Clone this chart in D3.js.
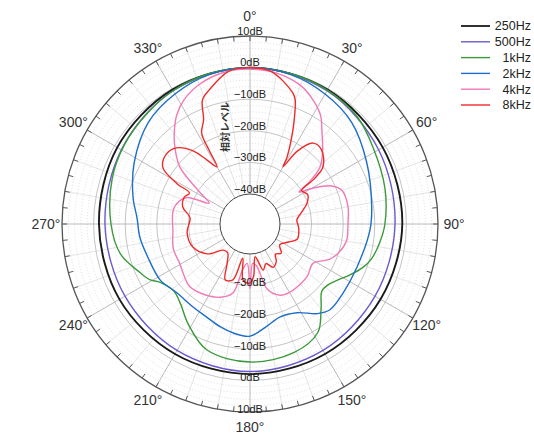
<!DOCTYPE html>
<html>
<head>
<meta charset="utf-8">
<script src="https://cdn.jsdelivr.net/npm/d3@7"></script>
<style>
  body { margin: 0; background: #fff; }
  text { font-family: "Liberation Sans", Arial, sans-serif; }
</style>
</head>
<body>
<div id="chart"></div>
<script>
// directivity readings, angle in degrees (0 = front, clockwise), level in dB
let angles250 = [0, 30, 60, 90, 120, 150, 180, 210, 240, 270, 300, 330];
let db250 = [0, -0.4, -1.0, -1.3, -1.8, -2.0, -2.0, -2.0, -1.8, -1.7, -1.0, -0.4];

let angles500 = [0, 30, 60, 90, 120, 150, 180, 210, 240, 270, 300, 330];
let db500 = [0, -0.8, -2.5, -3.6, -3.8, -3.3, -2.8, -3.3, -3.8, -3.6, -2.5, -0.8];

let angles1k = [0, 15, 30, 45, 58, 75, 90, 98, 106, 111, 117, 123, 128, 133, 140, 148, 161, 180,
    199, 212, 221, 229, 237, 241, 246, 257, 270, 288, 302, 317, 330, 345];
let db1k = [0, -0.2, -0.6, -1.5, -3.6, -5.3, -6.8, -8, -9.5, -11.2, -14, -16.7, -18.2, -18.4, -14.5, -9, -6.5, -5.8,
    -7.4, -12.4, -16, -17.4, -15.6, -13.2, -11.5, -7.4, -5.5, -3.6, -2.5, -1.7, -0.8, -0.2];

let angles2k = [0, 15, 30, 45, 62, 82, 93, 112, 127, 137, 143, 152, 162, 171, 180, 188, 196, 205,
    214, 227, 238, 252, 263, 273, 283, 298, 315, 330, 345];
let db2k = [0, -0.5, -2, -4, -7.7, -10.6, -11.5, -13, -12.8, -12.4, -14, -17.7, -18.6, -16.6, -14, -14.5, -15.6, -17,
    -17.6, -17.7, -16, -15.5, -14.4, -13.7, -11.5, -8, -4, -2, -0.5];

let angles4k = [0, 10, 20, 27, 33, 38, 45, 51, 55, 57, 60, 65, 70, 80, 90, 100, 108, 114, 122, 132, 143,
    150, 157, 165, 171, 176, 180, 184, 189, 194, 202, 212, 224, 232, 241, 252, 265, 280, 288, 293,
    297, 302, 309, 315, 320, 326, 332, 340, 350];
let db4k = [-0.5, -1, -2.8, -5.5, -8.5, -12.5, -17, -21, -27, -31, -27, -21, -18.5, -18, -18.5, -18.5, -20, -22, -26, -25, -24.6,
    -24.5, -25, -28, -36, -37, -29, -37, -35, -27, -24.5, -23, -22, -23, -24, -24, -25, -24.8, -26, -28,
    -35, -31, -21, -16, -12.2, -8, -5, -2.5, -0.8];

let angles8k = [0, 8, 18, 20, 23, 25, 29, 30, 33, 38, 44, 52, 55, 57, 63, 70, 78, 85, 95, 108, 115, 125,
    133, 140, 145, 152, 158, 164, 171, 176, 180, 187, 192, 197, 204, 210, 218, 226, 235, 248, 262,
    276, 284, 292, 297, 299, 303, 310, 316, 322, 326, 330, 331, 332, 336, 339, 343, 352];
let db8k = [0, -0.8, -5.8, -7.7, -13.7, -17.7, -25.3, -28.6, -22, -17, -16.9, -20.2, -25, -30, -29, -30.3, -33, -34.6, -34, -33.8, -36, -38,
    -36, -37, -35, -34, -36, -34.3, -39, -33, -30.8, -31.6, -38.4, -31, -30.2, -35, -38, -37.6, -33, -30, -29.4,
    -30.4, -27.6, -27, -28, -23, -16.6, -15, -16, -20, -25, -28.6, -23, -16.9, -13.4, -7.5, -5.2, -0.7];

let seriesNames = ["250Hz", "500Hz", "1kHz", "2kHz", "4kHz", "8kHz"];
let seriesColors = ["#1a1a1a", "#6a5acd", "#3a9a3a", "#1e6ec8", "#f07ab8", "#ee2b2b"];
let seriesAngles = [angles250, angles500, angles1k, angles2k, angles4k, angles8k];
let seriesDb = [db250, db500, db1k, db2k, db4k, db8k];

let ringLevels = [-40, -30, -20, -10, 0, 10];
let angleTicks = [0, 30, 60, 90, 120, 150, 180, 210, 240, 270, 300, 330];

let width = 534;
let height = 434;
let cx = 250;
let cy = 224;

let r = d3.scaleLinear().domain([-40, 10]).range([30, 188]).clamp(true);
let toRad = d => d * Math.PI / 180;

const svg = d3.select("#chart").append("svg")
    .attr("width", width)
    .attr("height", height);

const g = svg.append("g").attr("transform", `translate(${cx},${cy})`);

// fine dotted rings every 2 dB
g.append("g")
    .selectAll("circle")
    .data(d3.range(-38, 10, 2).filter(d => d % 10 !== 0))
    .join("circle")
    .attr("r", d => r(d))
    .attr("fill", "none")
    .attr("stroke", "#c8c8c8")
    .attr("stroke-width", 0.6)
    .attr("stroke-dasharray", "1,2");

// radial lines
g.append("g")
    .selectAll("line")
    .data(d3.range(0, 360, 10))
    .join("line")
    .attr("x1", d => r(-40) * Math.sin(toRad(d)))
    .attr("y1", d => -r(-40) * Math.cos(toRad(d)))
    .attr("x2", d => r(10) * Math.sin(toRad(d)))
    .attr("y2", d => -r(10) * Math.cos(toRad(d)))
    .attr("stroke", d => d % 30 === 0 ? "#a8a8a8" : "#d4d4d4")
    .attr("stroke-width", d => d % 30 === 0 ? 0.8 : 0.6);

// 10 dB rings
g.append("g")
    .selectAll("circle")
    .data(ringLevels)
    .join("circle")
    .attr("r", d => r(d))
    .attr("fill", d => d === -40 ? "#fff" : "none")
    .attr("stroke", d => d === 10 ? "#555" : d === -40 ? "#444" : "#b4b4b4")
    .attr("stroke-width", d => d === 10 ? 1.3 : d === -40 ? 1 : 0.8);

// ticks on the outer ring
g.append("g")
    .selectAll("line")
    .data(d3.range(0, 360, 5))
    .join("line")
    .attr("x1", d => r(10) * Math.sin(toRad(d)))
    .attr("y1", d => -r(10) * Math.cos(toRad(d)))
    .attr("x2", d => (r(10) - 5) * Math.sin(toRad(d)))
    .attr("y2", d => -(r(10) - 5) * Math.cos(toRad(d)))
    .attr("stroke", "#555")
    .attr("stroke-width", 1);

// curves
let line = d3.lineRadial()
    .angle(d => toRad(d[0]))
    .radius(d => r(d[1]))
    .curve(d3.curveCatmullRomClosed.alpha(0.5));

seriesNames.forEach((name, i) => {
    let pts = seriesAngles[i].map((a, j) => [a, seriesDb[i][j]]);
    g.append("path")
        .attr("d", line(pts))
        .attr("fill", "none")
        .attr("stroke", seriesColors[i])
        .attr("stroke-width", i === 0 ? 1.9 : 1.4);
});

// dB labels, top half
g.append("g")
    .selectAll("text")
    .data(ringLevels)
    .join("text")
    .attr("x", 0)
    .attr("y", d => -r(d) - 5)
    .attr("dy", "0.35em")
    .attr("text-anchor", "middle")
    .attr("font-size", 11)
    .attr("fill", "#222")
    .text(d => (d < 0 ? "\u2212" + (-d) : d) + "dB");

// dB labels, bottom half
g.append("g")
    .selectAll("text")
    .data(ringLevels.filter(d => d > -40))
    .join("text")
    .attr("x", 0)
    .attr("y", d => r(d) - 3)
    .attr("dy", "0.35em")
    .attr("text-anchor", "middle")
    .attr("font-size", 11)
    .attr("fill", "#222")
    .text(d => (d < 0 ? "\u2212" + (-d) : d) + "dB");

// angle labels
g.append("g")
    .selectAll("text")
    .data(angleTicks)
    .join("text")
    .attr("x", d => 204 * Math.sin(toRad(d)))
    .attr("y", d => -203 * Math.cos(toRad(d)) - (d === 0 ? 5 : 0))
    .attr("dy", "0.35em")
    .attr("text-anchor", "middle")
    .attr("font-size", 14)
    .attr("fill", "#333")
    .text(d => d + "°");

// level axis title
svg.append("text")
    .attr("transform", `translate(225,127) rotate(-90)`)
    .attr("text-anchor", "middle")
    .attr("dy", "0.35em")
    .attr("font-size", 10)
    .attr("font-weight", "bold")
    .attr("fill", "#333")
    .style("font-family", "'Noto Sans CJK JP', sans-serif")
    .text("相対レベル");

// legend
const legend = svg.append("g");
seriesNames.forEach((name, i) => {
    let y = 26 + i * 15.8;
    legend.append("line")
        .attr("x1", 461).attr("x2", 490)
        .attr("y1", y).attr("y2", y)
        .attr("stroke", seriesColors[i])
        .attr("stroke-width", i === 0 ? 1.8 : 1.4);
    legend.append("text")
        .attr("x", 531)
        .attr("y", y)
        .attr("dy", "0.35em")
        .attr("text-anchor", "end")
        .attr("font-size", 12.5)
        .attr("fill", "#222")
        .text(name);
});
</script>
</body>
</html>
